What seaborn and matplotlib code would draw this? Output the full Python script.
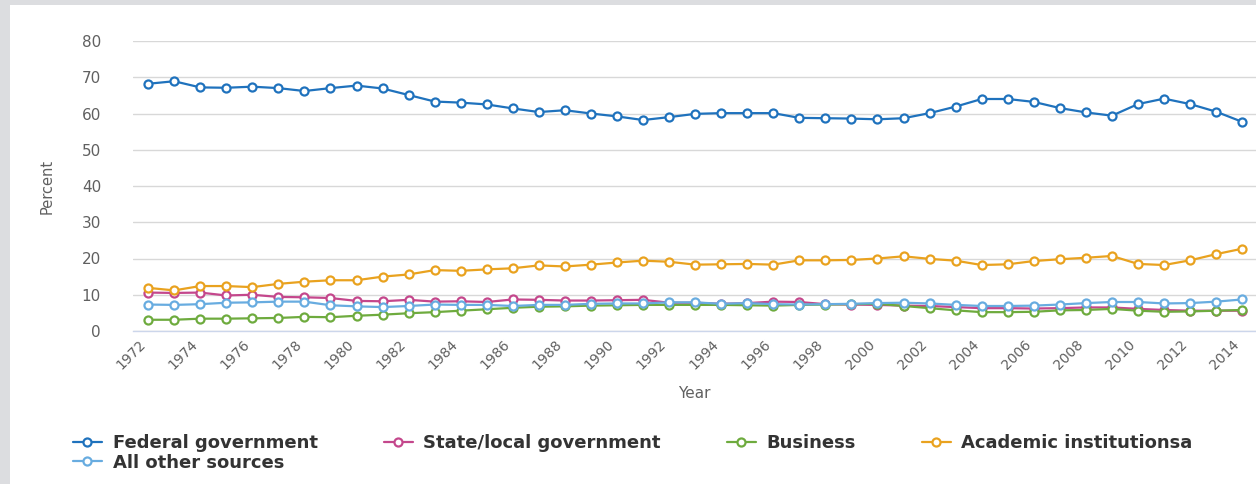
import matplotlib
matplotlib.use("Agg")
import matplotlib.pyplot as plt
import matplotlib.transforms as mtransforms
import seaborn as sns
import numpy as np
import pandas as pd
from matplotlib.patches import Rectangle

years = list(range(1972, 2015))

federal = [68.2, 68.9, 67.2, 67.1, 67.4, 67.0, 66.2, 67.0, 67.7, 66.9,
           65.1, 63.3, 63.0, 62.5, 61.4, 60.4, 60.9, 60.0, 59.2, 58.2,
           59.0, 59.9, 60.1, 60.1, 60.1, 58.8, 58.7, 58.6, 58.4, 58.7,
           60.1, 61.9, 64.0, 64.0, 63.2, 61.5, 60.3, 59.4, 62.6, 64.1,
           62.6, 60.5, 57.7]
state_local = [10.6, 10.5, 10.6, 9.8, 10.0, 9.4, 9.3, 9.1, 8.3, 8.2,
               8.6, 8.1, 8.2, 8.0, 8.7, 8.6, 8.4, 8.4, 8.5, 8.6,
               7.8, 7.8, 7.5, 7.7, 8.1, 8.0, 7.4, 7.3, 7.2, 7.0,
               6.9, 6.6, 6.3, 6.3, 6.2, 6.3, 6.5, 6.5, 6.1, 5.8,
               5.6, 5.6, 5.6]
business = [3.1, 3.1, 3.4, 3.4, 3.5, 3.6, 3.9, 3.8, 4.2, 4.5,
            4.9, 5.2, 5.6, 6.0, 6.4, 6.7, 6.8, 7.0, 7.1, 7.2,
            7.2, 7.2, 7.2, 7.1, 7.0, 7.2, 7.3, 7.4, 7.5, 6.9,
            6.3, 5.7, 5.2, 5.2, 5.3, 5.7, 5.8, 6.1, 5.6, 5.3,
            5.4, 5.6, 5.8]
academic = [11.9, 11.2, 12.4, 12.4, 12.1, 13.0, 13.6, 14.0, 14.0, 15.0,
            15.6, 16.8, 16.6, 17.0, 17.3, 18.1, 17.8, 18.3, 18.9, 19.4,
            19.1, 18.3, 18.4, 18.5, 18.3, 19.5, 19.5, 19.6, 20.0, 20.6,
            19.9, 19.4, 18.2, 18.4, 19.3, 19.8, 20.2, 20.7, 18.5, 18.2,
            19.5, 21.2, 22.7]
other = [7.3, 7.2, 7.4, 7.8, 7.9, 8.1, 8.1, 7.1, 6.8, 6.6,
         6.9, 7.3, 7.2, 7.2, 6.9, 7.2, 7.2, 7.5, 7.6, 7.6,
         7.9, 7.9, 7.5, 7.7, 7.4, 7.3, 7.4, 7.5, 7.7, 7.8,
         7.6, 7.2, 6.9, 6.9, 7.0, 7.3, 7.7, 8.0, 8.0, 7.6,
         7.7, 8.1, 8.7]

series_names = ["Federal government", "State/local government", "Business",
                "Academic institutionsa", "All other sources"]
series_values = [federal, state_local, business, academic, other]
colors = ["#1f72bd", "#c4478c", "#6eab3e", "#e9a21f", "#68ace0"]
y_ticks = [0, 10, 20, 30, 40, 50, 60, 70, 80]
x_tick_years = list(range(1972, 2015, 2))

sns.set_theme(style="white")
plt.rcParams["font.family"] = ["DejaVu Sans"]

fig = plt.figure(figsize=(12.56, 4.84), dpi=100, facecolor="#dcdde0")
fig.patches.append(Rectangle((10 / 1256, 0), 1, 1 - 5 / 484, transform=fig.transFigure,
                             facecolor="white", edgecolor="none", zorder=-5))
ax = fig.add_axes([133 / 1256, 1 - 331 / 484, 1 - 133 / 1256, (331 - 41) / 484])
ax.set_facecolor("none")
ax.set_zorder(2)

handles = {}
for name, vals, c in zip(series_names, series_values, colors):
    df = pd.DataFrame({"Year": years, "Percent": vals})
    sns.lineplot(data=df, x="Year", y="Percent", ax=ax, color=c, linewidth=1.6,
                 marker="o", markersize=5.8, markerfacecolor="white",
                 markeredgecolor=c, markeredgewidth=1.6, label=name, legend=False)
    handles[name] = ax.lines[-1]

ax.set_xlim(1971.42, 2014.53)
ax.set_ylim(0, 80)
ax.set_yticks(y_ticks)
ax.set_yticklabels([str(v) for v in y_ticks])
ax.grid(axis="y", color="#d8d8d8", linewidth=1)
ax.set_axisbelow(True)
for s in ["top", "right", "left"]:
    ax.spines[s].set_visible(False)
ax.spines["bottom"].set_color("#ccd6eb")
ax.spines["bottom"].set_linewidth(1)

ax.set_xticks(x_tick_years)
ax.set_xticklabels([str(y) for y in x_tick_years], rotation=45, ha="right",
                   rotation_mode="anchor")
ax.set_xticks(np.arange(1971.5, 2014.6, 1.0), minor=True)
ax.tick_params(axis="x", which="major", length=0, pad=6, labelsize=10, labelcolor="#606060")
ax.tick_params(axis="x", which="minor", length=7, width=1, color="#ccd6eb", direction="out")
ax.tick_params(axis="y", length=0, pad=23, labelsize=11, labelcolor="#606060")

ax.set_xlabel("Year", fontsize=11, color="#606060")
ax.set_ylabel("Percent", fontsize=10.5, color="#606060")
ax.xaxis.set_label_coords(0.5, -(393 - 331) / 290)
ax.yaxis.set_label_coords((47 - 133) / (1256 - 133), 0.5)
ax.xaxis.label.set_va("center")
ax.yaxis.label.set_va("center")

order = ["Federal government", "All other sources", "State/local government",
         "Business", "Academic institutionsa"]
leg = fig.legend([handles[n] for n in order], order, loc="upper left",
                 bbox_to_anchor=(73 / 1256, 1 - 434 / 484), ncol=4, frameon=False,
                 prop={"weight": "bold", "size": 13}, handlelength=1.6,
                 handletextpad=0.6, columnspacing=3.65, labelspacing=0.1,
                 borderpad=0, borderaxespad=0)
for t in leg.get_texts():
    t.set_color("#333333")

fig.canvas.draw()
offset = mtransforms.ScaledTranslation(-10 / 100, 2 / 100, fig.dpi_scale_trans)
for tick in ax.xaxis.get_major_ticks():
    tick.label1.set_transform(tick.label1.get_transform() + offset)

fig.savefig("out.png", dpi=100, facecolor=fig.get_facecolor())
